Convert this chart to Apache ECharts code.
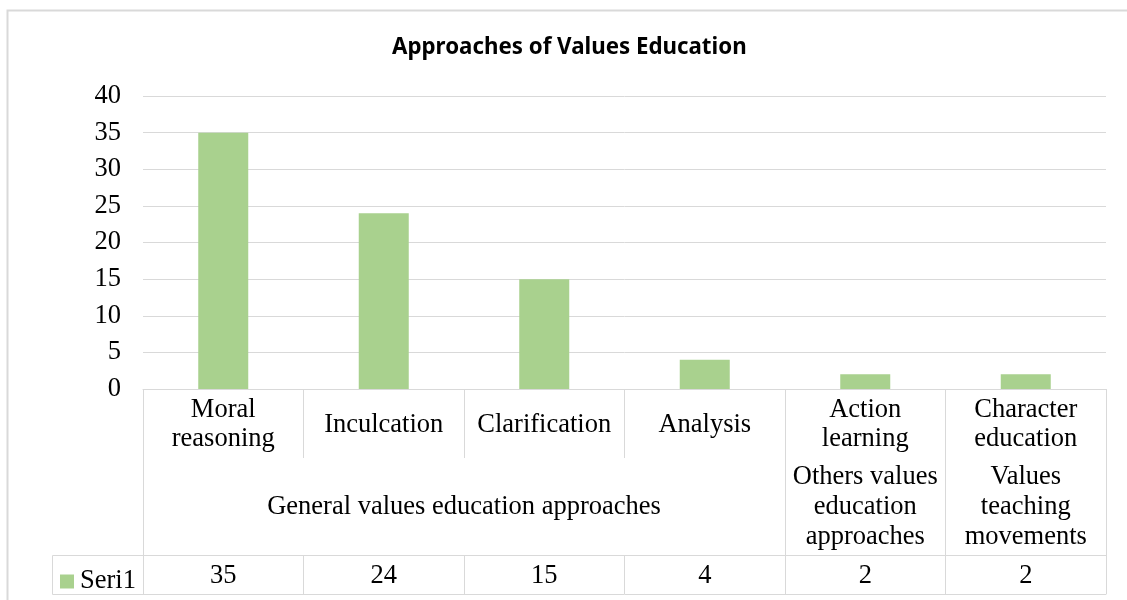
<!DOCTYPE html>
<html>
<head>
<meta charset="utf-8">
<title>Approaches of Values Education</title>
<script src="https://cdn.jsdelivr.net/npm/echarts@6/dist/echarts.min.js"></script>
<style>
  html, body { margin: 0; padding: 0; background: #fff; }
  #chartBar { width: 1127px; height: 600px; }
</style>
</head>
<body>
<div id="chartBar"></div>
<script>
// data
var categories = ["Moral\nreasoning", "Inculcation", "Clarification", "Analysis", "Action\nlearning", "Character\neducation"];
var seriesValues = [35, 24, 15, 4, 2, 2];
var seriesName = "Seri1";
// second level of the category axis: label, and where the group starts / ends (category index)
var groupLabels = ["General values education approaches", "Others values\neducation\napproaches", "Values\nteaching\nmovements"];
var groupStart = [0, 4, 5];
var groupEnd = [4, 5, 6];
var yTicks = [0, 5, 10, 15, 20, 25, 30, 35, 40];

var serif = "'Liberation Serif', 'Times New Roman', serif";
var lineColor = "#d9d9d9";
var gridLeft = 143, gridRight = 21, gridTop = 96, gridBottom = 211;
var row1 = 69, row2 = 97, row3 = 39; // heights of the table rows under the axis
var fontSize = 26.5;

var chartDom = document.getElementById("chartBar");
var myChart = echarts.init(chartDom, null, { renderer: "canvas" });

// middle of each group, and every group border, in category units
var groupMid = groupStart.map(function (s, i) { return (s + groupEnd[i]) / 2; });
var groupBorders = [0].concat(groupEnd);

var axisBottom = 600 - gridBottom;
var tableTop = axisBottom + row1 + row2;
var tableBottom = tableTop + row3;

var option = {
  animation: false,
  title: {
    text: "Approaches of Values Education",
    left: 392,
    top: 37,
    padding: 0,
    textStyle: { fontFamily: "'Noto Sans'", fontWeight: "bold", fontSize: 22.3, color: "#000" }
  },
  legend: {
    data: [seriesName],
    left: 60,
    top: tableTop + 13,
    padding: 0,
    icon: "rect",
    itemWidth: 14,
    itemHeight: 14,
    textStyle: { fontFamily: serif, fontSize: fontSize, color: "#000", padding: [2, 0, 0, 1] }
  },
  grid: { left: gridLeft, right: gridRight, top: gridTop, bottom: gridBottom },
  xAxis: [
    {
      // first level: the approaches
      type: "category",
      data: categories,
      axisLine: { show: true, lineStyle: { color: lineColor } },
      axisTick: { show: true, interval: 0, length: row1, lineStyle: { color: lineColor } },
      axisLabel: {
        interval: 0,
        margin: 36,
        verticalAlign: "middle",
        fontFamily: serif,
        fontSize: fontSize,
        lineHeight: 29,
        color: "#000"
      }
    },
    {
      // second level: the groups
      type: "value",
      min: 0,
      max: categories.length,
      position: "bottom",
      offset: row1,
      splitLine: { show: false },
      axisLine: { show: false },
      axisTick: { show: true, customValues: groupBorders, length: row2, lineStyle: { color: lineColor } },
      axisLabel: {
        customValues: groupMid,
        formatter: function (v) {
          return groupLabels[groupMid.indexOf(v)];
        },
        margin: 49,
        verticalAlign: "middle",
        fontFamily: serif,
        fontSize: fontSize,
        lineHeight: 30,
        color: "#000"
      }
    },
    {
      // data table row
      type: "category",
      data: categories,
      position: "bottom",
      offset: row1 + row2,
      axisLine: { show: true, lineStyle: { color: lineColor } },
      axisTick: { show: true, interval: 0, length: row3, lineStyle: { color: lineColor } },
      axisLabel: {
        interval: 0,
        margin: 21,
        verticalAlign: "middle",
        formatter: function (v, i) { return String(seriesValues[i]); },
        fontFamily: serif,
        fontSize: fontSize,
        color: "#000"
      }
    },
    {
      // bottom border of the data table
      type: "category",
      data: categories,
      position: "bottom",
      offset: row1 + row2 + row3,
      axisLine: { show: true, lineStyle: { color: lineColor } },
      axisTick: { show: false },
      axisLabel: { show: false }
    }
  ],
  yAxis: {
    type: "value",
    min: 0,
    max: 40,
    interval: 5,
    axisLine: { show: false },
    axisTick: { show: false },
    splitLine: { show: true, lineStyle: { color: lineColor } },
    axisLabel: {
      margin: 22,
      fontFamily: serif,
      fontSize: fontSize,
      color: "#000",
      formatter: function (v) { return yTicks.indexOf(v) >= 0 ? String(v) : ""; }
    }
  },
  graphic: [
    {
      // chart border (cut off at right and bottom in the picture)
      type: "rect",
      shape: { x: 7.5, y: 10.5, width: 1200, height: 700 },
      style: { fill: null, stroke: lineColor, lineWidth: 2 },
      silent: true
    },
    {
      // legend cell of the data table
      type: "polyline",
      shape: { points: [[gridLeft, tableTop + 0.5], [52.5, tableTop + 0.5], [52.5, tableBottom + 0.5], [gridLeft, tableBottom + 0.5]] },
      style: { fill: null, stroke: lineColor, lineWidth: 1 },
      silent: true
    }
  ],
  series: [
    {
      name: seriesName,
      type: "bar",
      xAxisIndex: 0,
      barWidth: 50,
      data: seriesValues,
      itemStyle: { color: "#A9D18E" }
    }
  ]
};
option && myChart.setOption(option);
</script>
</body>
</html>
